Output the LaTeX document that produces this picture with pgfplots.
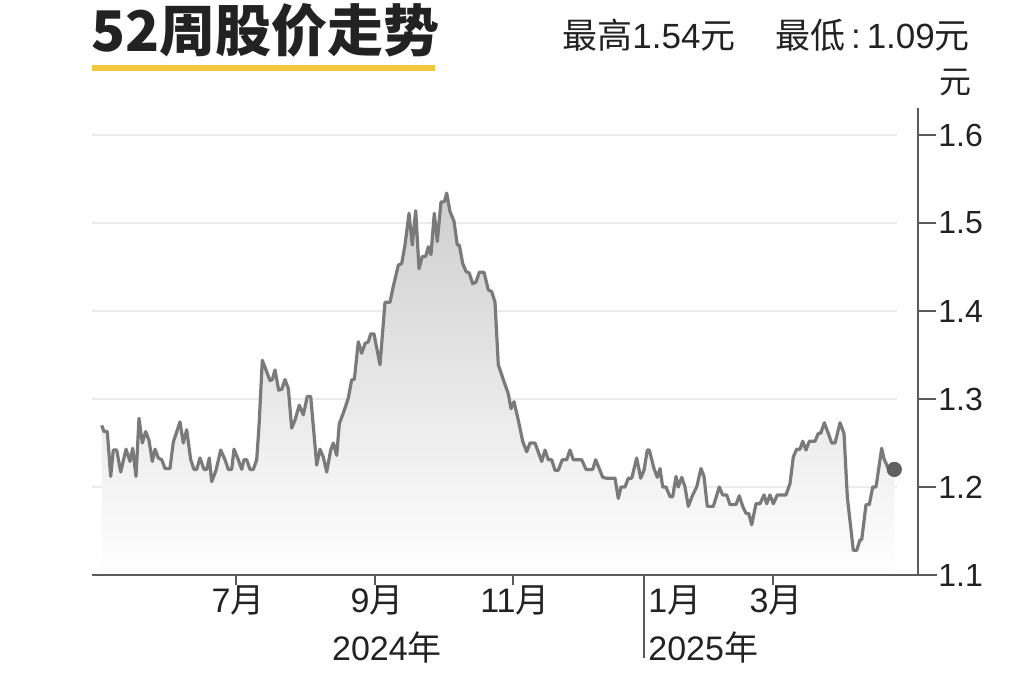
\documentclass[border=0pt]{standalone}
\usepackage{fontspec}
\setmainfont{Liberation Sans}
\newfontfamily\cjk{Noto Sans CJK SC}
\usepackage{pgfplots}
\pgfplotsset{compat=1.18}
\usepackage{pgfplotstable}
\definecolor{linec}{RGB}{122,122,122}
\definecolor{axisc}{RGB}{90,90,90}
\definecolor{gridc}{RGB}{236,236,236}
\definecolor{yel}{RGB}{242,200,64}
\definecolor{txt}{RGB}{34,34,34}

\pgfplotstableread{
x y
101.7 1.270
104.0 1.263
107.3 1.263
110.7 1.212
113.3 1.242
116.7 1.242
120.7 1.217
126.0 1.243
130.0 1.229
132.7 1.244
136.0 1.212
139.0 1.278
142.3 1.250
145.7 1.263
149.0 1.253
152.3 1.229
155.0 1.243
158.3 1.233
161.7 1.231
165.0 1.221
170.0 1.221
173.3 1.251
180.0 1.274
183.3 1.250
186.7 1.265
190.7 1.231
194.0 1.220
196.7 1.220
200.0 1.233
204.0 1.220
206.7 1.220
209.3 1.233
211.7 1.206
216.0 1.219
220.7 1.242
225.0 1.231
228.3 1.220
231.7 1.220
234.0 1.243
238.3 1.231
241.7 1.220
244.0 1.231
246.7 1.231
250.0 1.220
253.3 1.220
256.7 1.231
259.0 1.269
262.3 1.344
266.0 1.333
270.0 1.321
272.3 1.322
275.0 1.333
278.7 1.310
281.7 1.311
285.0 1.322
288.3 1.312
291.7 1.267
295.0 1.276
299.3 1.293
303.3 1.282
307.3 1.303
310.7 1.303
316.7 1.225
320.0 1.243
323.3 1.234
326.7 1.217
330.7 1.242
333.3 1.250
336.7 1.236
339.3 1.272
343.3 1.284
348.3 1.301
351.7 1.322
354.3 1.322
358.3 1.365
361.7 1.352
365.0 1.363
368.3 1.365
370.7 1.374
374.0 1.374
380.0 1.339
385.0 1.410
390.0 1.410
393.3 1.428
398.3 1.452
401.7 1.454
405.0 1.475
409.0 1.511
412.3 1.475
415.7 1.514
419.0 1.448
422.3 1.462
425.7 1.462
428.3 1.473
431.0 1.464
434.3 1.511
437.3 1.479
441.0 1.524
444.3 1.524
446.7 1.534
450.0 1.513
454.0 1.502
457.3 1.475
459.3 1.475
462.7 1.454
466.0 1.445
469.3 1.443
472.7 1.431
476.0 1.433
479.3 1.444
484.0 1.444
488.3 1.424
491.7 1.422
495.0 1.410
498.3 1.339
503.3 1.322
508.3 1.306
511.0 1.289
514.0 1.297
518.3 1.276
522.7 1.252
526.7 1.240
530.0 1.250
535.0 1.250
541.7 1.229
545.0 1.242
548.3 1.231
551.7 1.231
555.0 1.219
558.3 1.219
562.3 1.231
566.7 1.231
570.0 1.242
573.3 1.231
581.7 1.231
586.0 1.220
592.7 1.220
595.7 1.231
602.7 1.211
606.7 1.210
615.0 1.210
618.3 1.187
621.0 1.200
625.0 1.200
628.3 1.210
631.7 1.210
636.7 1.233
640.7 1.210
644.0 1.219
647.3 1.242
649.3 1.242
654.0 1.221
657.3 1.211
660.0 1.221
662.7 1.200
666.0 1.200
670.0 1.189
672.7 1.189
676.0 1.212
678.3 1.200
681.7 1.211
685.0 1.200
688.3 1.178
692.7 1.191
696.7 1.200
701.0 1.221
704.0 1.212
707.3 1.178
713.3 1.178
719.3 1.200
722.7 1.191
726.7 1.191
730.0 1.180
736.0 1.180
739.3 1.190
742.7 1.178
746.0 1.170
748.7 1.170
751.7 1.157
756.0 1.181
760.0 1.181
764.0 1.191
766.7 1.181
770.0 1.191
773.3 1.181
777.3 1.191
786.0 1.191
790.0 1.204
793.3 1.234
796.7 1.243
800.0 1.243
802.7 1.252
806.0 1.242
809.3 1.252
815.0 1.252
818.3 1.261
820.7 1.261
824.3 1.273
828.3 1.261
831.7 1.250
835.0 1.250
840.0 1.273
844.0 1.261
847.3 1.189
853.3 1.128
856.7 1.128
860.0 1.140
861.7 1.140
866.0 1.180
869.3 1.180
872.7 1.200
876.0 1.200
881.7 1.244
884.0 1.232
888.3 1.221
894.3 1.220
}\price

\begin{document}
\begin{tikzpicture}
\begin{axis}[
  at={(46pt,53.5pt)}, anchor=south west,
  scale only axis, width=413pt, height=233.5pt,
  xmin=92, xmax=918, ymin=1.1, ymax=1.6307,
  clip=false, axis on top,
  axis y line*=right, axis x line*=bottom,
  axis line style={axisc, line width=0.8pt, -},
  xtick=\empty,
  ytick={1.1,1.2,1.3,1.4,1.5,1.6},
  tick align=outside, major tick length=9pt,
  tick style={axisc, line width=0.8pt},
  /pgf/number format/assume math mode=true,
  /pgf/number format/fixed, /pgf/number format/precision=1,
  /pgf/number format/fixed zerofill,
  yticklabel style={font=\fontsize{16}{16}\selectfont, text=txt, anchor=west, inner sep=1pt},
]
\draw[gridc, line width=0.7pt] (axis cs:92,1.2) -- (axis cs:897,1.2);
\draw[gridc, line width=0.7pt] (axis cs:92,1.3) -- (axis cs:897,1.3);
\draw[gridc, line width=0.7pt] (axis cs:92,1.4) -- (axis cs:897,1.4);
\draw[gridc, line width=0.7pt] (axis cs:92,1.5) -- (axis cs:897,1.5);
\draw[gridc, line width=0.7pt] (axis cs:92,1.6) -- (axis cs:897,1.6);
\addplot[draw=none, top color=black!19, middle color=black!3, bottom color=white] table {\price} -- (axis cs:894.3,1.1) -- (axis cs:101.7,1.1) -- cycle;
\addplot[linec, line width=1.6pt, line join=round] table {\price};
\addplot[only marks, mark=*, mark size=3.6pt, color=black!62] coordinates {(894.3,1.22)};
\end{axis}
\begin{scope}[x=0.5pt,y=-0.5pt,yshift=341pt]
\draw[axisc, line width=0.8pt] (92,575) -- (937,575);
\draw[axisc, line width=0.8pt] (236,575) -- (236,585);
\draw[axisc, line width=0.8pt] (375,575) -- (375,585);
\draw[axisc, line width=0.8pt] (513,575) -- (513,585);
\draw[axisc, line width=0.8pt] (773,575) -- (773,585);
\draw[axisc, line width=0.8pt] (644,575) -- (644,658);
\node[anchor=west, inner sep=0, text=txt] at (91,30) {\fontsize{28}{28}\selectfont\cjk\bfseries 52周股价走势};
\draw[yel, line width=3pt] (92,68) -- (435,68);
\node[anchor=west, inner sep=0, text=txt] at (562,35) {\fontsize{17.5}{17.5}\selectfont{\cjk 最高}1.54{\cjk 元}};
\node[anchor=west, inner sep=0, text=txt] at (775,35) {\fontsize{17.5}{17.5}\selectfont{\cjk 最低}\,:\,1.09{\cjk 元}};
\node[inner sep=0, text=txt] at (955,83) {\fontsize{16}{16}\selectfont\cjk 元};
\node[inner sep=0, text=txt] at (238,600) {\fontsize{17}{17}\selectfont 7{\cjk 月}};
\node[inner sep=0, text=txt] at (377,600) {\fontsize{17}{17}\selectfont 9{\cjk 月}};
\node[inner sep=0, text=txt] at (515,600) {\fontsize{17}{17}\selectfont 11{\cjk 月}};
\node[anchor=west, inner sep=0, text=txt] at (648,600) {\fontsize{17}{17}\selectfont 1{\cjk 月}};
\node[inner sep=0, text=txt] at (776,600) {\fontsize{17}{17}\selectfont 3{\cjk 月}};
\node[inner sep=0, text=txt] at (387,648) {\fontsize{17}{17}\selectfont 2024{\cjk 年}};
\node[anchor=west, inner sep=0, text=txt] at (648,648) {\fontsize{17}{17}\selectfont 2025{\cjk 年}};
\end{scope}
\pgfresetboundingbox
\path (0,0) rectangle (512pt,341pt);
\end{tikzpicture}
\end{document}
